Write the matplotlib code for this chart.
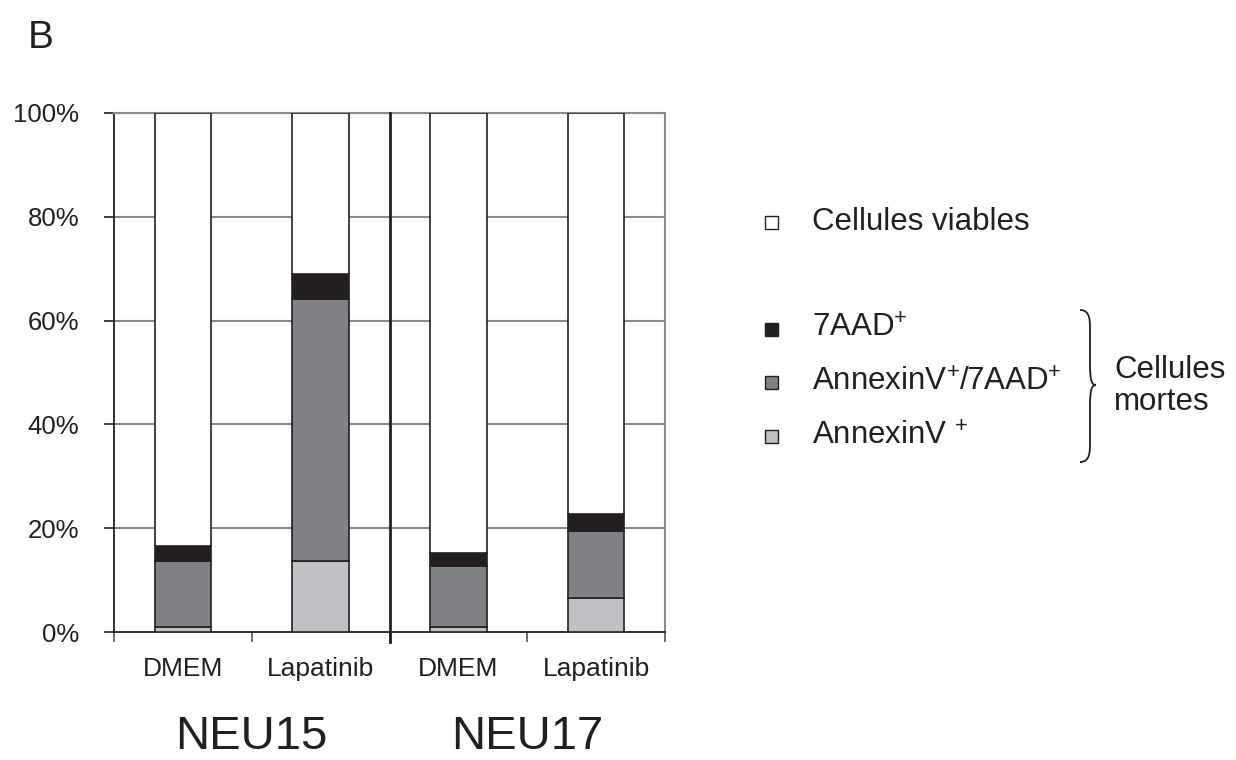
import matplotlib.pyplot as plt
import numpy as np
from matplotlib.patches import Rectangle, PathPatch
from matplotlib.path import Path

plt.rcParams['font.family'] = ['Liberation Sans', 'DejaVu Sans']
plt.rcParams['mathtext.fontset'] = 'custom'
plt.rcParams['mathtext.rm'] = 'Liberation Sans'
plt.rcParams['mathtext.default'] = 'regular'

# données (%)
conditions = ['DMEM', 'Lapatinib', 'DMEM', 'Lapatinib']
lignees = ['NEU15', 'NEU17']
annexin = [0.9, 13.7, 1.0, 6.5]
annexin_7aad = [12.8, 50.5, 11.8, 13.0]
aad = [2.9, 4.8, 2.5, 3.2]
viables = [100 - a - b - c for a, b, c in zip(annexin, annexin_7aad, aad)]

col_annexin = '#c0c1c4'
col_double = '#808184'
col_aad = '#231f20'
col_viable = '#ffffff'
edge = '#231f20'
grid_col = '#8a8a8a'

W, H = 1236, 760
fig = plt.figure(figsize=(12.36, 7.6), dpi=100)
ax = fig.add_axes([114 / W, 1 - 632 / H, (665 - 114) / W, (632 - 113) / H])

x = np.arange(len(conditions))
w = 0.41
bottom = np.zeros(len(x))
for vals, c in [(annexin, col_annexin), (annexin_7aad, col_double),
                (aad, col_aad), (viables, col_viable)]:
    ax.bar(x, vals, w, bottom=bottom, color=c, edgecolor=edge, linewidth=1.2, zorder=3)
    bottom += np.array(vals)

ax.set_xlim(-0.5, 3.5)
ax.set_ylim(0, 100)
ax.set_yticks(np.arange(0, 101, 20))
ax.set_yticklabels([f'{v}%' for v in range(0, 101, 20)], fontsize=18.5, color='#231f20')
for v in range(20, 101, 20):
    ax.axhline(v, color=grid_col, lw=1.5, zorder=1)

ax.set_xticks(x)
ax.set_xticklabels(conditions, fontsize=19, color='#231f20')
ax.set_xticks([-0.5, 0.5, 1.5, 2.5, 3.5], minor=True)
ax.tick_params(axis='x', which='major', length=0, pad=18)
ax.tick_params(axis='x', which='minor', length=7, width=1.2, color='#555555', direction='out')
ax.tick_params(axis='y', length=7, width=1.2, direction='out', pad=18, color='#231f20')

# séparateur entre lignées
ax.plot([1.5, 1.5], [-2, 100], color=edge, lw=2, clip_on=False, zorder=4)

for s in ['left', 'bottom']:
    ax.spines[s].set_color(edge)
    ax.spines[s].set_linewidth(1.3)
for s in ['top', 'right']:
    ax.spines[s].set_color(grid_col)
    ax.spines[s].set_linewidth(1.5)

for i, lab in enumerate(lignees):
    ax.text(0.5 + 2 * i, -22.6, lab, ha='center', va='baseline', fontsize=34,
            color='#231f20', transform=ax.transData)

fig.text(28 / W, 1 - 38 / H, 'B', fontsize=28, ha='left', va='center', color='#231f20')

# légende
leg = [(222, col_viable, 'Cellules viables'),
       (329, col_aad, '7AAD$^{+}$'),
       (383, col_double, 'AnnexinV$^{+}$/7AAD$^{+}$'),
       (437, col_annexin, 'AnnexinV $^{+}$')]
for y, c, t in leg:
    sq = 13
    fig.add_artist(Rectangle((765 / W, 1 - (y + sq / 2) / H), sq / W, sq / H,
                             transform=fig.transFigure, facecolor=c,
                             edgecolor='#231f20', lw=1))
    fig.text(812 / W, 1 - y / H, t, fontsize=22.5, va='center', ha='left', color='#231f20')

# accolade
def fx(px):
    return px / W

def fy(py):
    return 1 - py / H

xb, y0, y1, ym = 1080, 310, 462, 385
verts = [(fx(xb), fy(y0)),
         (fx(xb + 10), fy(y0)), (fx(xb + 10), fy(y0 + 10)), (fx(xb + 10), fy(y0 + 20)),
         (fx(xb + 10), fy(ym - 20)),
         (fx(xb + 10), fy(ym - 4)), (fx(xb + 12), fy(ym)), (fx(xb + 16), fy(ym)),
         (fx(xb + 12), fy(ym)), (fx(xb + 10), fy(ym + 4)), (fx(xb + 10), fy(ym + 20)),
         (fx(xb + 10), fy(y1 - 20)),
         (fx(xb + 10), fy(y1 - 10)), (fx(xb + 10), fy(y1)), (fx(xb), fy(y1))]
codes = [Path.MOVETO,
         Path.CURVE4, Path.CURVE4, Path.CURVE4,
         Path.LINETO,
         Path.CURVE4, Path.CURVE4, Path.CURVE4,
         Path.CURVE4, Path.CURVE4, Path.CURVE4,
         Path.LINETO,
         Path.CURVE4, Path.CURVE4, Path.CURVE4]
fig.add_artist(PathPatch(Path(verts, codes), transform=fig.transFigure,
                         facecolor='none', edgecolor='#231f20', lw=1.3))
fig.text(1114 / W, 1 - 386 / H, 'Cellules\nmortes', fontsize=22.5, va='center',
         ha='left', color='#231f20', linespacing=1.1)

fig.savefig('out.png', dpi=100, facecolor='white')
